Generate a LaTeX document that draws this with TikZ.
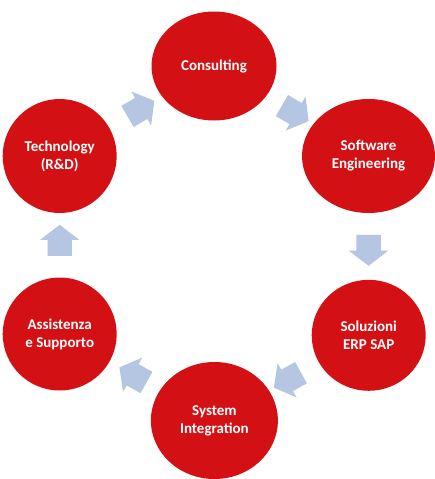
\documentclass[tikz,border=0pt]{standalone}
\usepackage{fontspec}
\setmainfont{Carlito}
\usetikzlibrary{shapes.geometric,shapes.arrows}
\definecolor{cyclered}{RGB}{211,17,21}
\definecolor{arrowblue}{RGB}{180,198,226}
\begin{document}
\begin{tikzpicture}[x=1pt,y=-1pt,
  stage/.style={ellipse,fill=cyclered,draw=none,inner sep=0pt,align=center,
    text=white,font=\fontsize{15}{18}\selectfont\bfseries},
  flowarrow/.style={single arrow,fill=arrowblue,draw=none,inner xsep=0pt,inner ysep=12pt,
    minimum width=39pt,minimum height=31pt,single arrow head extend=7.5pt,
    single arrow tip angle=105,sloped,allow upside down,outer sep=0pt}]
\useasboundingbox (0,0) rectangle (435,479);
\node[stage,minimum width=125pt,minimum height=109pt] (cons) at (214,66) {Consulting};
\node[stage,minimum width=133pt,minimum height=114pt] (soft) at (368.5,156) {Software\\Engineering};
\node[stage,minimum width=114pt,minimum height=111pt] (erp) at (368.7,335.3) {Soluzioni\\ERP SAP};
\node[stage,minimum width=127pt,minimum height=117pt] (sys) at (214.4,420.5) {System\\Integration};
\node[stage,minimum width=114pt,minimum height=113pt] (ass) at (59.7,334) {Assistenza\\e Supporto};
\node[stage,minimum width=114pt,minimum height=114pt] (tech) at (59.7,156) {Technology\\(R\&D)};
\path (tech.center) -- node[flowarrow]{} (cons.center);
\path (cons.center) -- node[flowarrow]{} (soft.center);
\path (soft.center) -- node[flowarrow]{} (erp.center);
\path (erp.center) -- node[flowarrow]{} (sys.center);
\path (sys.center) -- node[flowarrow]{} (ass.center);
\path (ass.center) -- node[flowarrow]{} (tech.center);
\end{tikzpicture}
\end{document}
